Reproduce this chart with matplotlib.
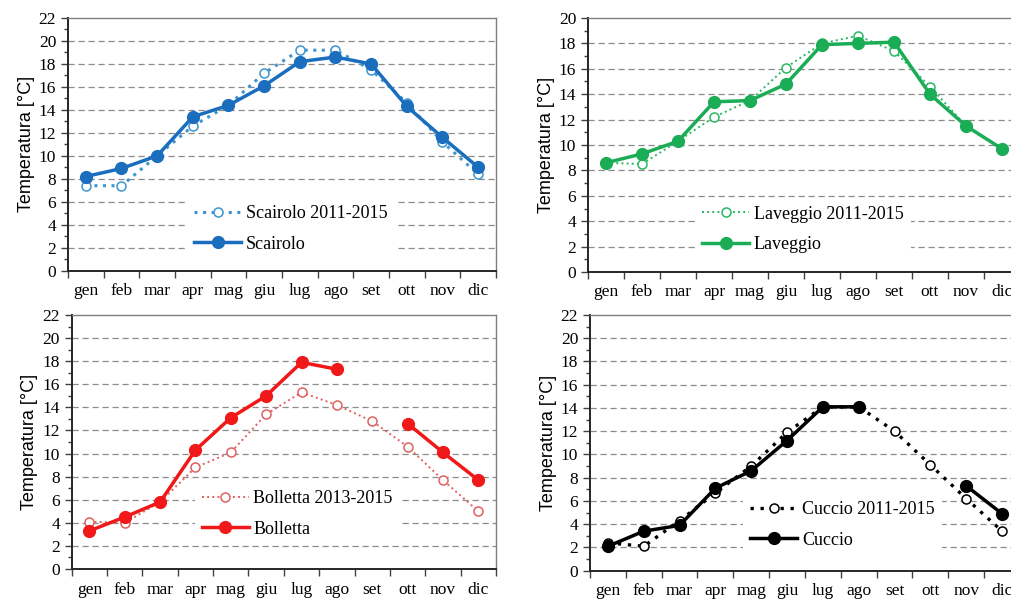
import numpy as np
import matplotlib.pyplot as plt
from matplotlib.ticker import MultipleLocator, FixedLocator

mesi = ["gen", "feb", "mar", "apr", "mag", "giu", "lug", "ago", "set", "ott", "nov", "dic"]
nan = np.nan

scairolo = [8.2, 8.9, 10.0, 13.4, 14.4, 16.1, 18.2, 18.6, 18.0, 14.3, 11.6, 9.0]
scairolo_rif = [7.4, 7.4, 10.0, 12.6, 14.4, 17.2, 19.2, 19.2, 17.5, 14.6, 11.2, 8.4]

laveggio = [8.6, 9.3, 10.3, 13.4, 13.5, 14.8, 17.9, 18.0, 18.1, 14.0, 11.5, 9.7]
laveggio_rif = [8.6, 8.5, 10.3, 12.2, 13.5, 16.1, 18.0, 18.6, 17.4, 14.6, 11.5, 9.7]

bolletta = [3.3, 4.5, 5.8, 10.3, 13.1, 15.0, 17.9, 17.3, nan, 12.6, 10.1, 7.7]
bolletta_rif = [4.1, 4.0, 5.8, 8.8, 10.1, 13.4, 15.3, 14.2, 12.8, 10.6, 7.7, 5.0]

cuccio = [2.1, 3.4, 3.9, 7.1, 8.6, 11.2, 14.1, 14.1, nan, nan, 7.3, 4.9]
cuccio_rif = [2.4, 2.1, 4.3, 6.7, 9.0, 11.9, 14.1, 14.1, 12.0, 9.1, 6.2, 3.4]

W, H = 1012, 601
fig = plt.figure(figsize=(W / 100, H / 100), dpi=100)

serif = "Liberation Serif"


def pannello(rect, y, y_rif, nome, nome_rif, col, col_rif, ls_rif, lw_rif, ymax, leg_xy):
    ax = fig.add_axes(rect)
    x = np.arange(12)
    ax.plot(x, y_rif, linestyle=ls_rif, lw=lw_rif, color=col_rif, marker="o",
            ms=6.5, mfc="white", mec=col_rif, mew=1.1, label=nome_rif, zorder=3)
    ax.plot(x, y, "-", lw=2.5, color=col, marker="o", ms=8.5, mfc=col, mec=col,
            label=nome, zorder=4)
    ax.set_xlim(-0.5, 11.5)
    ax.set_ylim(0, ymax)
    ax.xaxis.set_major_locator(FixedLocator(x))
    ax.set_xticklabels(mesi, fontfamily=serif, fontsize=12.5)
    ax.xaxis.set_minor_locator(FixedLocator(np.arange(-0.5, 12, 1)))
    ax.tick_params(axis="x", which="major", length=0, pad=9)
    ax.tick_params(axis="x", which="minor", length=5, width=1, color="#404040", direction="out")
    ax.yaxis.set_major_locator(MultipleLocator(2))
    ax.yaxis.set_minor_locator(MultipleLocator(1))
    ax.tick_params(axis="y", which="major", length=5, width=1, color="#404040", labelsize=12.5)
    ax.tick_params(axis="y", which="minor", length=3, width=1, color="#404040")
    for t in ax.get_yticklabels():
        t.set_fontfamily(serif)
    ax.set_ylabel("Temperatura [°C]", fontfamily="Liberation Sans", fontsize=13, labelpad=3)
    for g in np.arange(2, ymax, 2):
        ax.axhline(g, color="#8c8c8c", lw=0.9, ls=(0, (5, 3)), zorder=1)
    for s in ["left", "bottom"]:
        ax.spines[s].set_color("#262626")
        ax.spines[s].set_linewidth(1.4)
    for s in ["top", "right"]:
        ax.spines[s].set_color("#7f7f7f")
        ax.spines[s].set_linewidth(1.0)
    leg = ax.legend(loc="center left", bbox_to_anchor=leg_xy, frameon=True,
                    facecolor="white", edgecolor="none", framealpha=1,
                    prop={"family": serif, "size": 13}, handlelength=2.6,
                    handletextpad=0.25, labelspacing=0.75, borderpad=0.4,
                    borderaxespad=0, fancybox=False)
    leg.set_zorder(2)
    return ax


pannello([68 / W, 1 - 270.7 / H, 428 / W, 252.7 / H], scairolo, scairolo_rif,
         "Scairolo", "Scairolo 2011-2015", "#1a6ebd", "#3d95cf", (0, (1, 1.8)), 2.2, 22, (0.278, 0.165))
pannello([588 / W, 1 - 272 / H, 432 / W, 254 / H], laveggio, laveggio_rif,
         "Laveggio", "Laveggio 2011-2015", "#1aad55", "#2ab862", ":", 1.4, 20, (0.248, 0.167))
pannello([71.7 / W, 1 - 569 / H, 424.3 / W, 254 / H], bolletta, bolletta_rif,
         "Bolletta", "Bolletta 2013-2015", "#f01818", "#e06060", ":", 1.4, 22, (0.29, 0.2165))
pannello([590 / W, 1 - 570.7 / H, 430 / W, 255.7 / H], cuccio, cuccio_rif,
         "Cuccio", "Cuccio 2011-2015", "#000000", "#000000", (0, (1, 2)), 2.4, 22, (0.356, 0.179))

fig.savefig("out.png", dpi=100)
